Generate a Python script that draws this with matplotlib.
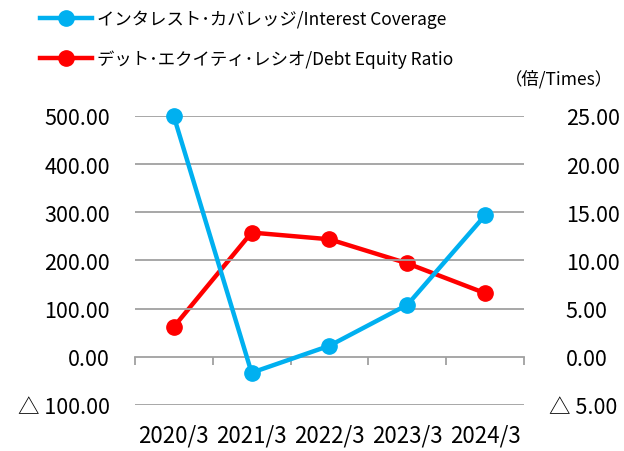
import matplotlib
matplotlib.use('Agg')
import matplotlib.pyplot as plt
from matplotlib.ticker import FuncFormatter
from matplotlib.transforms import ScaledTranslation

plt.rcParams['font.family'] = ['Noto Sans CJK JP', 'DejaVu Sans']

years = ['2020/3', '2021/3', '2022/3', '2023/3', '2024/3']
interest_coverage = [500.0, -33.0, 23.0, 108.0, 294.0]
de_ratio = [3.1, 12.9, 12.2, 9.7, 6.6]
label_ic = 'インタレスト･カバレッジ/Interest Coverage'
label_de = 'デット･エクイティ･レシオ/Debt Equity Ratio'
unit_text = '（倍/Times）'

left_ticks = [-100, 0, 100, 200, 300, 400, 500]
right_ticks = [-5, 0, 5, 10, 15, 20, 25]

blue = '#00B0F0'
red = '#FF0000'
grid_col = '#A0A0A0'


def fmt(v, pos):
    if v < 0:
        return f'△ {abs(v):.2f}'
    return f'{v:.2f}'


fig = plt.figure(figsize=(6.24, 4.52), dpi=100)
ax = fig.add_axes([0.216, 0.1018, 0.624, 0.6394])
ax2 = ax.twinx()

x = list(range(len(years)))
ax.set_xlim(-0.5, len(years) - 0.5)
ax.set_ylim(-100, 500)
ax2.set_ylim(-5, 25)

for y in left_ticks:
    if y != 0:
        ax.axhline(y, color=grid_col, lw=1.3, zorder=0)

# zero line with category separators
ax.spines['bottom'].set_position(('data', 0))
ax.spines['bottom'].set_color(grid_col)
ax.spines['bottom'].set_linewidth(1.3)
ax.set_xticks([i - 0.5 for i in range(len(years) + 1)])
ax.tick_params(axis='x', length=6, width=1.3, color=grid_col, labelbottom=False)

sec = ax.secondary_xaxis(0.0)
sec.set_xticks(x)
sec.set_xticklabels(years)
sec.tick_params(length=0, labelsize=16, pad=13)
sec.spines['bottom'].set_visible(False)

for a in (ax, ax2):
    for s in ('top', 'left', 'right'):
        a.spines[s].set_visible(False)
ax2.spines['bottom'].set_visible(False)

ax.set_yticks(left_ticks)
ax.yaxis.set_major_formatter(FuncFormatter(fmt))
ax.tick_params(axis='y', length=0, labelsize=15.5, pad=18)

ax2.set_yticks(right_ticks)
ax2.yaxis.set_major_formatter(FuncFormatter(fmt))
ax2.tick_params(axis='y', length=0, labelsize=15.5, pad=30)

l1, = ax.plot(x, interest_coverage, color=blue, lw=3.2, marker='o', ms=11,
              label=label_ic, zorder=3, clip_on=False)
l2, = ax2.plot(x, de_ratio, color=red, lw=3.2, marker='o', ms=11,
               label=label_de, zorder=3, clip_on=False)
ax.set_zorder(ax2.get_zorder() + 1)
ax.patch.set_visible(False)

fig.canvas.draw()
for lab in ax2.get_yticklabels():
    if lab.get_text().startswith('△'):
        lab.set_transform(lab.get_transform() + ScaledTranslation(-17 / 100, 0, fig.dpi_scale_trans))

fig.legend(handles=[l1, l2], loc='upper left', bbox_to_anchor=(40 / 624, 1 - 11 / 452),
           frameon=False, fontsize=12.5, handlelength=3.0, handletextpad=0.3,
           labelspacing=1.2, borderpad=0, borderaxespad=0)

fig.text(613 / 624, 1 - 79 / 452, unit_text, ha='right', va='center', fontsize=12.5)

fig.savefig('out.png', dpi=100)
